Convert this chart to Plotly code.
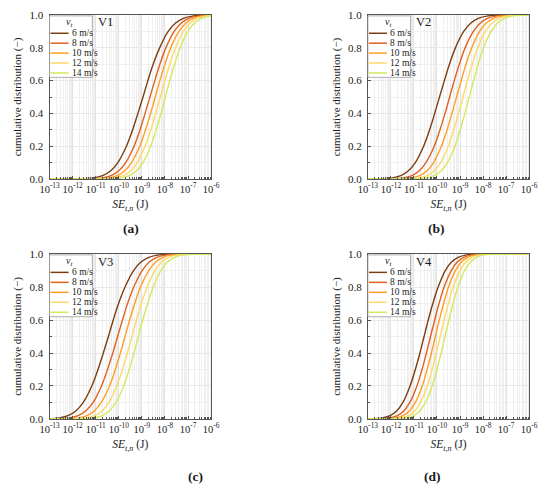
import plotly.graph_objects as go

LEVELS = [0.0, 0.001, 0.005, 0.02, 0.05, 0.1, 0.2, 0.3, 0.4, 0.5,
          0.6, 0.7, 0.8, 0.9, 0.95, 0.98, 0.995, 0.999, 1.0]

SPEEDS = ["6 m/s", "8 m/s", "10 m/s", "12 m/s", "14 m/s"]
COLORS = ["#7a3e12", "#e0601e", "#ff9e22", "#ffd966", "#d4e85c"]

X_TICK_EXP = [-13, -12, -11, -10, -9, -8, -7, -6]
X_TICK_TEXT = ["10<sup>-13</sup>", "10<sup>-12</sup>", "10<sup>-11</sup>", "10<sup>-10</sup>",
               "10<sup>-9</sup>", "10<sup>-8</sup>", "10<sup>-7</sup>", "10<sup>-6</sup>"]

# log10(SE_t,n) where each curve reaches LEVELS (one row per speed)
V1 = [
    [-14, -11.58, -11.14, -10.70, -10.35, -10.04, -9.67, -9.40, -9.17, -8.95, -8.74, -8.51, -8.23, -7.86, -7.55, -7.20, -6.76, -6.32, -5],
    [-14, -11.18, -10.76, -10.33, -10.00, -9.70, -9.34, -9.08, -8.86, -8.65, -8.44, -8.22, -7.96, -7.60, -7.30, -6.97, -6.54, -6.12, -5],
    [-14, -10.89, -10.48, -10.06, -9.74, -9.45, -9.09, -8.84, -8.62, -8.42, -8.22, -8.00, -7.75, -7.39, -7.10, -6.78, -6.36, -5.95, -5],
    [-14, -10.61, -10.21, -9.80, -9.48, -9.20, -8.86, -8.61, -8.40, -8.20, -8.00, -7.79, -7.54, -7.20, -6.92, -6.60, -6.19, -5.79, -5],
    [-14, -10.33, -9.94, -9.54, -9.23, -8.95, -8.62, -8.38, -8.17, -7.98, -7.79, -7.58, -7.34, -7.01, -6.73, -6.42, -6.02, -5.63, -5],
]
V2 = [
    [-14, -12.42, -12.00, -11.57, -11.24, -10.94, -10.58, -10.32, -10.10, -9.89, -9.68, -9.46, -9.20, -8.84, -8.54, -8.21, -7.78, -7.36, -5],
    [-14, -11.92, -11.51, -11.09, -10.77, -10.48, -10.12, -9.87, -9.65, -9.45, -9.25, -9.03, -8.78, -8.42, -8.13, -7.81, -7.39, -6.98, -5],
    [-14, -11.56, -11.16, -10.75, -10.43, -10.15, -9.81, -9.56, -9.35, -9.15, -8.95, -8.74, -8.49, -8.15, -7.87, -7.55, -7.14, -6.74, -5],
    [-14, -11.22, -10.83, -10.43, -10.12, -9.84, -9.51, -9.27, -9.06, -8.87, -8.68, -8.47, -8.23, -7.90, -7.62, -7.31, -6.91, -6.52, -5],
    [-14, -10.89, -10.51, -10.12, -9.82, -9.55, -9.22, -8.99, -8.79, -8.60, -8.41, -8.21, -7.98, -7.65, -7.38, -7.08, -6.69, -6.31, -5],
]
V3 = [
    [-14, -13.08, -12.64, -12.20, -11.85, -11.54, -11.17, -10.90, -10.67, -10.45, -10.24, -10.01, -9.73, -9.36, -9.05, -8.70, -8.26, -7.82, -5],
    [-14, -12.62, -12.19, -11.76, -11.42, -11.11, -10.75, -10.49, -10.26, -10.05, -9.84, -9.62, -9.35, -8.99, -8.69, -8.35, -7.91, -7.49, -5],
    [-14, -12.20, -11.79, -11.37, -11.05, -10.76, -10.40, -10.15, -9.93, -9.73, -9.53, -9.31, -9.06, -8.70, -8.41, -8.09, -7.67, -7.26, -5],
    [-14, -11.84, -11.44, -11.03, -10.71, -10.43, -10.09, -9.84, -9.63, -9.43, -9.23, -9.02, -8.77, -8.43, -8.15, -7.83, -7.42, -7.02, -5],
    [-14, -11.50, -11.11, -10.71, -10.40, -10.12, -9.79, -9.55, -9.34, -9.15, -8.96, -8.75, -8.51, -8.18, -7.90, -7.59, -7.19, -6.80, -5],
]
V4 = [
    [-14, -12.79, -12.42, -12.04, -11.74, -11.48, -11.17, -10.94, -10.74, -10.56, -10.38, -10.18, -9.95, -9.64, -9.38, -9.08, -8.71, -8.34, -5],
    [-14, -12.44, -12.08, -11.72, -11.43, -11.18, -10.87, -10.65, -10.46, -10.28, -10.10, -9.91, -9.69, -9.38, -9.13, -8.84, -8.48, -8.12, -5],
    [-14, -12.17, -11.82, -11.47, -11.19, -10.94, -10.64, -10.43, -10.24, -10.07, -9.90, -9.71, -9.50, -9.20, -8.95, -8.67, -8.32, -7.97, -5],
    [-14, -11.93, -11.59, -11.24, -10.96, -10.72, -10.42, -10.21, -10.03, -9.86, -9.69, -9.51, -9.30, -9.00, -8.76, -8.48, -8.13, -7.79, -5],
    [-14, -11.69, -11.35, -11.01, -10.74, -10.50, -10.21, -10.00, -9.82, -9.65, -9.48, -9.30, -9.09, -8.80, -8.56, -8.29, -7.95, -7.61, -5],
]

PANELS = [
    # name, data, panel letter, x domain, y domain, letter position (paper)
    ("V1", V1, "(a)", [0.0745, 0.3787], [0.6382, 0.981], (0.227, 0.535)),
    ("V2", V2, "(b)", [0.674, 0.9776], [0.6382, 0.981], (0.804, 0.535)),
    ("V3", V3, "(c)", [0.0745, 0.3787], [0.1361, 0.481], (0.349, 0.016)),
    ("V4", V4, "(d)", [0.674, 0.9776], [0.1361, 0.481], (0.796, 0.016)),
]

FONT = "Liberation Serif, Times New Roman, serif"
AXIS_COLOR = "#555555"

fig = go.Figure()
layout = {}

for i, (name, data, letter, xdom, ydom, lpos) in enumerate(PANELS):
    n = "" if i == 0 else str(i + 1)
    xa, ya = "x" + n, "y" + n

    for row, speed, color in zip(data, SPEEDS, COLORS):
        fig.add_trace(go.Scatter(
            x=[10 ** e for e in row],
            y=LEVELS,
            mode="lines",
            name=speed,
            line=dict(color=color, width=1.4, shape="spline"),
            xaxis=xa,
            yaxis=ya,
            showlegend=False,
        ))

    layout["xaxis" + n] = dict(
        domain=xdom, anchor=ya,
        type="log", range=[-13, -6],
        tickmode="array",
        tickvals=[10 ** e for e in X_TICK_EXP],
        ticktext=X_TICK_TEXT,
        ticks="inside", ticklen=3, tickcolor=AXIS_COLOR,
        showline=True, linecolor=AXIS_COLOR, linewidth=1, mirror=True,
        showgrid=True, gridcolor="#e2e2e2", gridwidth=0.6,
        minor=dict(dtick="D1", showgrid=True, gridcolor="#efefef", gridwidth=0.6,
                   ticks="inside", ticklen=2, tickcolor=AXIS_COLOR),
        tickfont=dict(size=10.5),
        title=dict(text="<i>SE</i><sub><i>t,n</i></sub> (J)", font=dict(size=11.5), standoff=6),
        zeroline=False,
    )
    layout["yaxis" + n] = dict(
        domain=ydom, anchor=xa,
        range=[0, 1], dtick=0.2, tickformat=".1f",
        ticks="inside", ticklen=3, tickcolor=AXIS_COLOR,
        showline=True, linecolor=AXIS_COLOR, linewidth=1, mirror=True,
        showgrid=True, gridcolor="#e8e8e8", gridwidth=0.6,
        minor=dict(dtick=0.1, showgrid=True, gridcolor="#efefef", gridwidth=0.6,
                   ticks="inside", ticklen=2, tickcolor=AXIS_COLOR),
        tickfont=dict(size=11),
        ticklabelstandoff=3,
        title=dict(text="cumulative distribution (\u2212)", font=dict(size=11), standoff=5),
        zeroline=False,
    )

    # legend box drawn inside the upper-left corner of each panel
    xr, yr = xa + " domain", ya + " domain"
    fig.add_shape(type="rect", xref=xr, yref=yr, x0=0.0, x1=0.265, y0=0.62, y1=0.995,
                  line=dict(color="#999999", width=0.8), fillcolor="white", layer="above")
    fig.add_annotation(xref=xr, yref=yr, x=0.126, y=0.955, text="<i>v<sub>t</sub></i>",
                       showarrow=False, font=dict(size=10), xanchor="center", yanchor="middle")
    for k, (speed, color) in enumerate(zip(SPEEDS, COLORS)):
        ypos = 0.889 - k * 0.0605
        fig.add_shape(type="line", xref=xr, yref=yr, x0=0.006, x1=0.118, y0=ypos, y1=ypos,
                      line=dict(color=color, width=1.5), layer="above")
        fig.add_annotation(xref=xr, yref=yr, x=0.124, y=ypos, text=speed, showarrow=False,
                           font=dict(size=9.5), xanchor="left", yanchor="middle")
    fig.add_annotation(xref=xr, yref=yr, x=0.285, y=0.955, text=name, showarrow=False,
                       font=dict(size=12.5), xanchor="left", yanchor="middle")

    fig.add_annotation(xref="paper", yref="paper", x=lpos[0], y=lpos[1], text="<b>" + letter + "</b>",
                       showarrow=False, font=dict(size=13.5), xanchor="center", yanchor="middle")

fig.update_layout(
    width=550, height=490,
    margin=dict(l=0, r=0, t=0, b=0),
    font=dict(family=FONT, size=11, color="#1a1a1a"),
    plot_bgcolor="white",
    paper_bgcolor="white",
    **layout,
)

fig.write_html("out.html", config={"displayModeBar": False},
               post_script="document.body.style.margin='0';document.body.style.overflow='hidden';")
